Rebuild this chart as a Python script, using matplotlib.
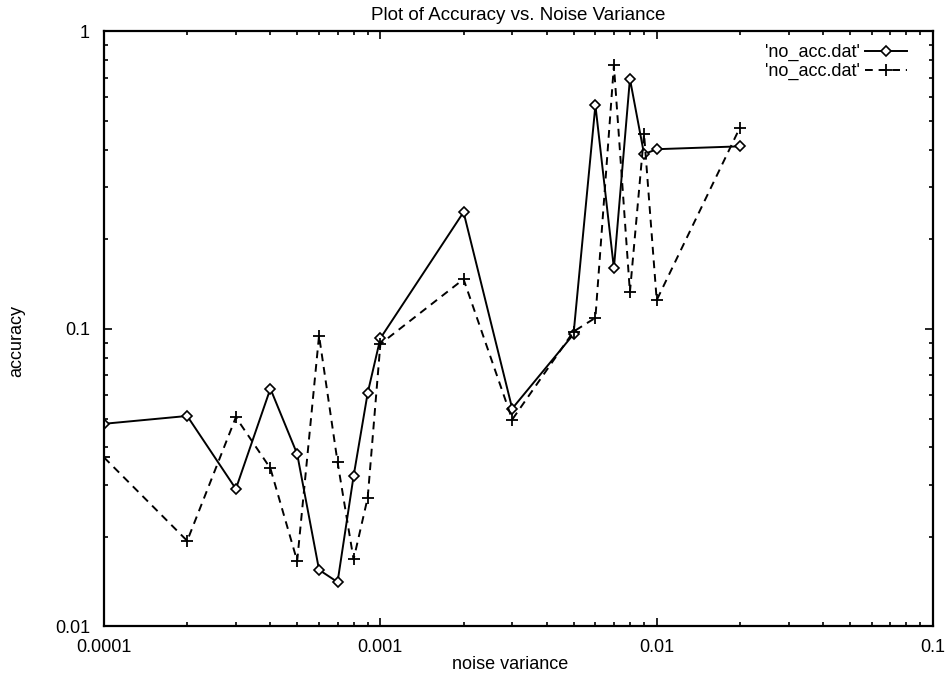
import matplotlib.pyplot as plt
from matplotlib.ticker import LogLocator, NullFormatter, FixedLocator, FixedFormatter

plt.rcParams['font.family'] = ['Liberation Sans', 'DejaVu Sans']

# noise variance levels and accuracy for the two runs
noise_var = [0.0001, 0.0002, 0.0003, 0.0004, 0.0005, 0.0006, 0.0007, 0.0008, 0.0009,
             0.001, 0.002, 0.003, 0.005, 0.006, 0.007, 0.008, 0.009, 0.01, 0.02]
acc_a = [0.048, 0.051, 0.029, 0.063, 0.038, 0.0155, 0.0141, 0.032, 0.061,
         0.093, 0.247, 0.054, 0.096, 0.565, 0.160, 0.693, 0.387, 0.402, 0.411]
acc_b = [0.037, 0.0194, 0.0505, 0.034, 0.0166, 0.095, 0.0357, 0.0168, 0.0271,
         0.089, 0.147, 0.0496, 0.098, 0.109, 0.769, 0.133, 0.452, 0.125, 0.475]

x_ticks = [0.0001, 0.001, 0.01, 0.1]
x_labels = ['0.0001', '0.001', '0.01', '0.1']
y_ticks = [0.01, 0.1, 1]
y_labels = ['0.01', '0.1', '1']

fig = plt.figure(figsize=(9.49, 6.75), dpi=100)
ax = fig.add_axes([0.1096, 0.0719, 0.8736, 0.8815])

ax.plot(noise_var, acc_a, color='black', lw=1.4, marker='D', markersize=5.5,
        markerfacecolor='white', markeredgewidth=1.2, label="'no_acc.dat'")
ax.plot(noise_var, acc_b, color='black', lw=1.4, linestyle=(0, (4, 3)), marker='+',
        markersize=8, markeredgewidth=1.3, label="'no_acc.dat'")

ax.set_xscale('log')
ax.set_yscale('log')
ax.set_xlim(0.0001, 0.1)
ax.set_ylim(0.01, 1)

ax.xaxis.set_major_locator(FixedLocator(x_ticks))
ax.xaxis.set_major_formatter(FixedFormatter(x_labels))
ax.yaxis.set_major_locator(FixedLocator(y_ticks))
ax.yaxis.set_major_formatter(FixedFormatter(y_labels))
for axis in (ax.xaxis, ax.yaxis):
    axis.set_minor_locator(LogLocator(base=10, subs=range(2, 10)))
    axis.set_minor_formatter(NullFormatter())

ax.tick_params(which='both', direction='in', top=True, right=True, width=1.2,
               labelsize=13, color='black')
ax.tick_params(which='major', length=6)
ax.tick_params(which='minor', length=3)
ax.tick_params(axis='x', pad=9)
ax.tick_params(axis='y', pad=10)
for s in ax.spines.values():
    s.set_linewidth(1.6)

ax.set_title('Plot of Accuracy vs. Noise Variance', fontsize=13.5, pad=8)
ax.set_xlabel('noise variance', fontsize=13)
ax.set_ylabel('accuracy', fontsize=13)
ax.xaxis.set_label_coords(0.49, -0.05)
ax.yaxis.set_label_coords(-0.095, 0.48)

ax.legend(loc='upper right', bbox_to_anchor=(0.9686, 0.979), frameon=False,
          markerfirst=False, fontsize=13, handlelength=2.3, handletextpad=0.3,
          labelspacing=0.1, borderaxespad=0, borderpad=0)

fig.savefig('out.png', dpi=100)
